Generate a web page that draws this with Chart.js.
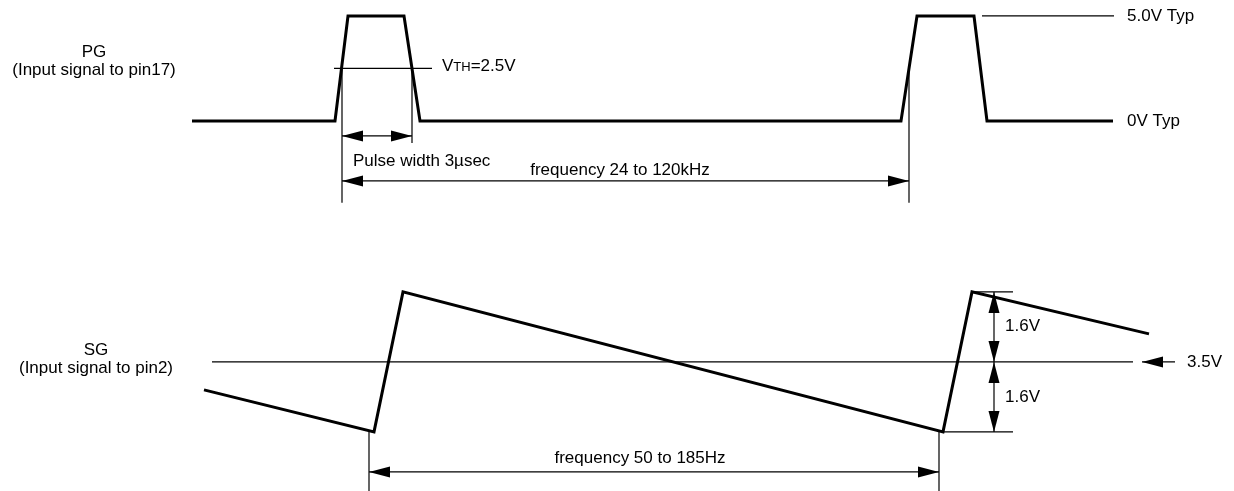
<!DOCTYPE html>
<html>
<head>
<meta charset="utf-8">
<script src="https://cdn.jsdelivr.net/npm/chart.js@4.4.0/dist/chart.umd.min.js"></script>
<style>
  html, body { margin: 0; padding: 0; background: #fff; }
  #wrap { width: 1234px; height: 491px; position: relative; }
</style>
</head>
<body>
<div id="wrap"><canvas id="timing"></canvas></div>
<script>
// time axis, arbitrary units
const timeMin = 0;
const timeMax = 1234;

// PG pulse train (volts)
const pgTime  = [192, 335, 348, 404, 420, 901, 917, 974, 987, 1113];
const pgVolts = [0, 0, 5.0, 5.0, 0, 0, 5.0, 5.0, 0, 0];
const pgThreshold = 2.5;

// SG sawtooth (volts)
const sgTime  = [204, 374, 403, 943, 972, 1149];
const sgVolts = [2.86, 1.9, 5.1, 1.9, 5.1, 4.14];
const sgCenter = 3.5;
const sgTop = 5.1;
const sgBottom = 1.9;

// thin reference / extension lines: [axis, t1, v1, t2, v2]
const refLines = [
  ['yPG', 334, pgThreshold, 432, pgThreshold],
  ['yPG', 982, 5.0, 1114, 5.0],
  ['yPG', 342, pgThreshold, 342, -3.9],
  ['yPG', 412, pgThreshold, 412, -1.05],
  ['yPG', 909, pgThreshold, 909, -3.9],
  ['ySG', 212, sgCenter, 1133, sgCenter],
  ['ySG', 972, sgTop, 1013, sgTop],
  ['ySG', 943, sgBottom, 1013, sgBottom],
  ['ySG', 369, sgBottom, 369, 0.55],
  ['ySG', 939, sgBottom, 939, 0.55]
];

// dimension arrows: [axis, t1, v1, t2, v2, heads]
const dimArrows = [
  ['yPG', 342, -0.714, 412, -0.714, 'both'],
  ['yPG', 342, -2.857, 909, -2.857, 'both'],
  ['ySG', 994, sgCenter, 994, sgTop, 'both'],
  ['ySG', 994, sgBottom, 994, sgCenter, 'both'],
  ['ySG', 369, 0.986, 939, 0.986, 'both'],
  ['ySG', 1175, sgCenter, 1142, sgCenter, 'end']
];

// text labels: [axis, t, v, align, text]
const labels = [
  ['yPG', 94, 3.27, 'center', 'PG'],
  ['yPG', 94, 2.40, 'center', '(Input signal to pin17)'],
  ['yPG', 1127, 5.0, 'left', '5.0V Typ'],
  ['yPG', 1127, 0, 'left', '0V Typ'],
  ['yPG', 353, -1.905, 'left', 'Pulse width 3\u00b5sec'],
  ['yPG', 620, -2.33, 'center', 'frequency 24 to 120kHz'],
  ['ySG', 96, 3.77, 'center', 'SG'],
  ['ySG', 96, 3.36, 'center', '(Input signal to pin2)'],
  ['ySG', 1005, 4.32, 'left', '1.6V'],
  ['ySG', 1005, 2.70, 'left', '1.6V'],
  ['ySG', 1187, sgCenter, 'left', '3.5V'],
  ['ySG', 640, 1.306, 'center', 'frequency 50 to 185Hz']
];
const vthLabel = ['yPG', 442, pgThreshold, ['V', 'TH', '=2.5V']];

const FONT = '"Liberation Sans", Arial, sans-serif';
const SIZE = 17;

const datasets = [
  {
    data: pgTime.map((t, i) => ({ x: t, y: pgVolts[i] })),
    yAxisID: 'yPG', borderColor: '#000', borderWidth: 3,
    pointRadius: 0, showLine: true, tension: 0, borderJoinStyle: 'miter'
  },
  {
    data: sgTime.map((t, i) => ({ x: t, y: sgVolts[i] })),
    yAxisID: 'ySG', borderColor: '#000', borderWidth: 3,
    pointRadius: 0, showLine: true, tension: 0, borderJoinStyle: 'miter'
  }
];
refLines.forEach(l => {
  datasets.push({
    data: [{ x: l[1], y: l[2] }, { x: l[3], y: l[4] }],
    yAxisID: l[0], borderColor: '#000', borderWidth: 1.2,
    pointRadius: 0, showLine: true
  });
});

function arrowHead(ctx, tx, ty, fx, fy) {
  const dx = fx - tx, dy = fy - ty;
  const len = Math.hypot(dx, dy) || 1;
  const ux = dx / len, uy = dy / len;
  const L = 21, W = 5.5;
  ctx.beginPath();
  ctx.moveTo(tx, ty);
  ctx.lineTo(tx + ux * L - uy * W, ty + uy * L + ux * W);
  ctx.lineTo(tx + ux * L + uy * W, ty + uy * L - ux * W);
  ctx.closePath();
  ctx.fill();
}

const annotate = {
  id: 'annotate',
  afterDatasetsDraw(chart) {
    const ctx = chart.ctx;
    const xs = chart.scales.x;
    ctx.save();
    ctx.strokeStyle = '#000';
    ctx.fillStyle = '#000';
    ctx.lineWidth = 1.2;

    dimArrows.forEach(a => {
      const ys = chart.scales[a[0]];
      const x1 = xs.getPixelForValue(a[1]), y1 = ys.getPixelForValue(a[2]);
      const x2 = xs.getPixelForValue(a[3]), y2 = ys.getPixelForValue(a[4]);
      ctx.beginPath();
      ctx.moveTo(x1, y1);
      ctx.lineTo(x2, y2);
      ctx.stroke();
      if (a[5] === 'both' || a[5] === 'start') arrowHead(ctx, x1, y1, x2, y2);
      if (a[5] === 'both' || a[5] === 'end') arrowHead(ctx, x2, y2, x1, y1);
    });

    ctx.font = SIZE + 'px ' + FONT;
    ctx.textBaseline = 'middle';
    labels.forEach(l => {
      const ys = chart.scales[l[0]];
      ctx.textAlign = l[3];
      ctx.fillText(l[4], xs.getPixelForValue(l[1]), ys.getPixelForValue(l[2]));
    });

    // V with TH subscript
    let x = xs.getPixelForValue(vthLabel[1]);
    const y = chart.scales[vthLabel[0]].getPixelForValue(vthLabel[2]) + 3;
    ctx.textAlign = 'left';
    ctx.textBaseline = 'alphabetic';
    const parts = vthLabel[3];
    ctx.font = SIZE + 'px ' + FONT;
    ctx.fillText(parts[0], x, y);
    x += ctx.measureText(parts[0]).width;
    ctx.font = '13px ' + FONT;
    ctx.fillText(parts[1], x, y);
    x += ctx.measureText(parts[1]).width;
    ctx.font = SIZE + 'px ' + FONT;
    ctx.fillText(parts[2], x, y);
    ctx.restore();
  }
};

new Chart(document.getElementById('timing'), {
  type: 'scatter',
  data: { datasets },
  options: {
    responsive: true,
    maintainAspectRatio: false,
    animation: false,
    layout: { padding: 0 },
    plugins: { legend: { display: false }, tooltip: { enabled: false } },
    scales: {
      x: { type: 'linear', min: timeMin, max: timeMax, display: false },
      yPG: { type: 'linear', min: -17.62, max: 5.76, display: false },
      ySG: { type: 'linear', min: 0.55, max: 11.77, display: false }
    }
  },
  plugins: [annotate]
});
</script>
</body>
</html>
